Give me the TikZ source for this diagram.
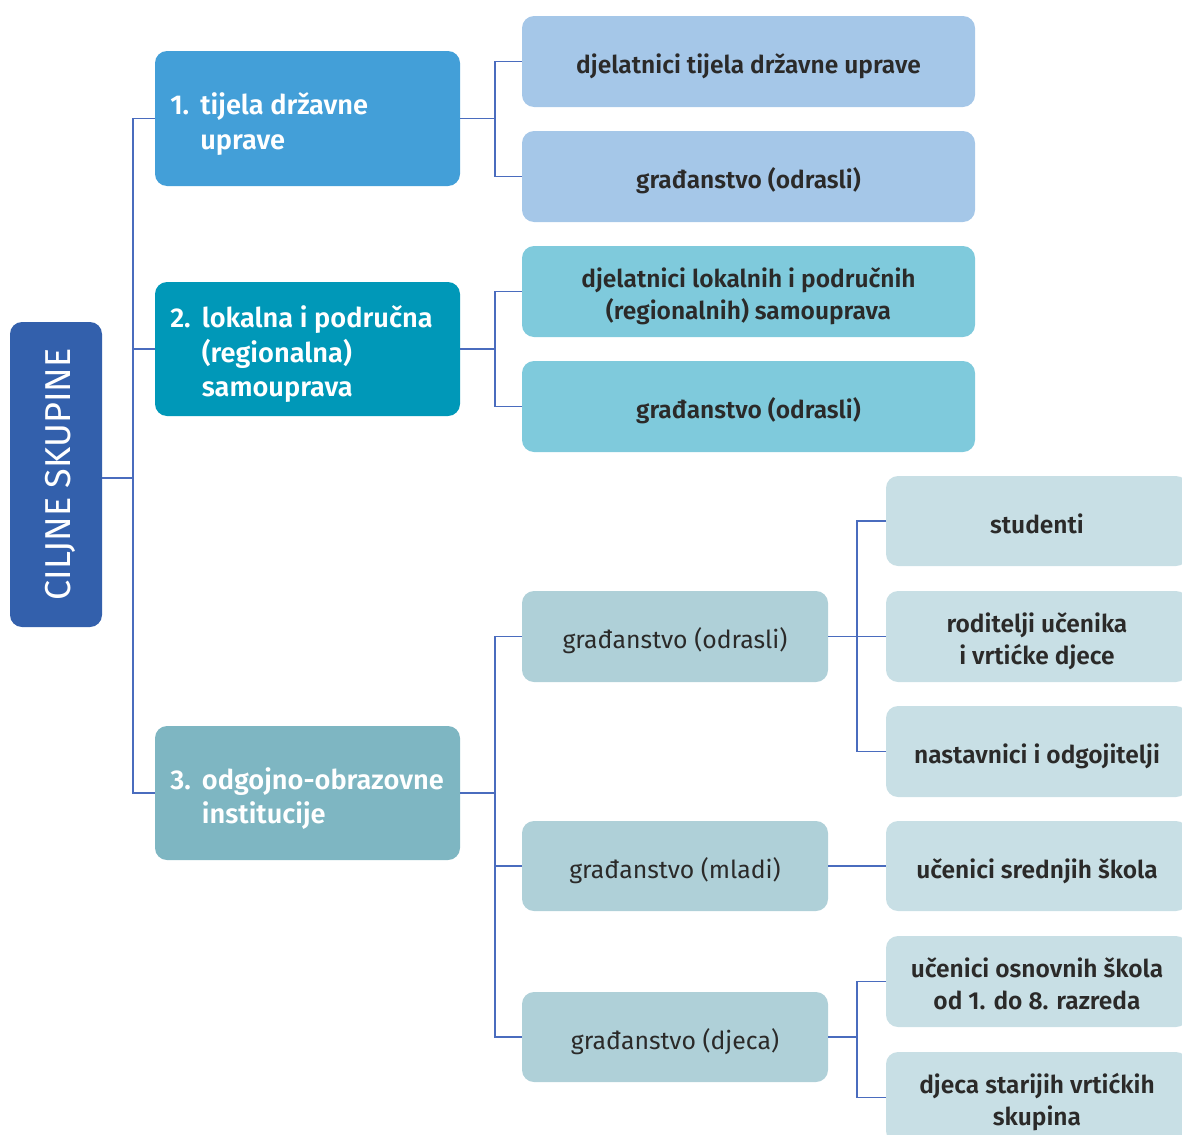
\documentclass[tikz,border=0pt]{standalone}
\usepackage{fontspec}
\IfFontExistsTF{Fira Sans SemiBold}{\setmainfont{Fira Sans}[BoldFont={Fira Sans SemiBold}]}{\setmainfont{Fira Sans}}
\definecolor{croot}{HTML}{3360AC}
\definecolor{cone}{HTML}{439FD8}
\definecolor{ctwo}{HTML}{0098B8}
\definecolor{cthree}{HTML}{7EB6C2}
\definecolor{lone}{HTML}{A5C7E8}
\definecolor{ltwo}{HTML}{7FCADC}
\definecolor{lthree}{HTML}{AFD0D8}
\definecolor{pale}{HTML}{C8DFE5}
\definecolor{cline}{HTML}{4A6CBE}
\definecolor{ctext}{HTML}{2B2A29}
\tikzset{
  boxbase/.style={rounded corners=9pt, inner sep=0pt, align=center},
  conn/.style={draw=cline, line width=1.1pt},
  headbox/.style={boxbase},
  headtext/.style={anchor=north west, text=white, font=\bfseries\fontsize{20.4}{26}\selectfont, inner sep=0pt},
  leafbold/.style={boxbase, text=ctext, font=\bfseries\fontsize{18.4}{24}\selectfont},
  leafreg/.style={boxbase, text=ctext, font=\fontsize{18.6}{24}\selectfont},
}
\newcommand{\low}[1]{\raisebox{0pt}[\dimexpr\height+9pt\relax]{\begin{tabular}{@{}c@{}}#1\end{tabular}}}
\newcommand{\bx}[7]{\node[#6, minimum width={(#4-#2)*0.75pt}, minimum height={(#5-#3)*0.75pt}] (#1) at ({(#2+#4)/2},{(#3+#5)/2}) {#7};}
\begin{document}
\begin{tikzpicture}[x=0.75pt,y=-0.75pt]
\useasboundingbox (0,0) rectangle (1182,1135);
% root
\bx{root}{10}{322}{102}{627}{boxbase, fill=croot}{}
\node[rotate=90, text=white, font=\fontsize{27}{30}\selectfont] (roottext) at ([xshift=3pt]root.center) {CILJNE SKUPINE};
% level 1
\bx{b1}{155}{51}{460}{186}{headbox, fill=cone}{}
\node[headtext] (t1) at (170,90) {\begin{tabular}{@{}l@{\ \,}l@{}}1.&tijela državne\\ &uprave\end{tabular}};
\bx{b2}{155}{282}{460}{416}{headbox, fill=ctwo}{}
\node[headtext] (t2) at (170,303) {\begin{tabular}{@{}l@{\ \,}l@{}}2.&lokalna i područna\\ &(regionalna)\\ &samouprava\end{tabular}};
\bx{b3}{155}{726}{460}{860}{headbox, fill=cthree}{}
\node[headtext] (t3) at (170,764.5) {\begin{tabular}{@{}l@{\ \,}l@{}}3.&odgojno-obrazovne\\ &institucije\end{tabular}};
% level 2
\bx{a1}{522}{16}{975}{107}{leafbold, fill=lone}{\low{djelatnici tijela državne uprave}}
\bx{a2}{522}{131}{975}{222}{leafbold, fill=lone}{\low{građanstvo (odrasli)}}
\bx{a3}{522}{246}{975}{337}{leafbold, fill=ltwo}{\low{djelatnici lokalnih i područnih\\(regionalnih) samouprava}}
\bx{a4}{522}{361}{975}{452}{leafbold, fill=ltwo}{\low{građanstvo (odrasli)}}
\bx{g1}{522}{591}{828}{682}{leafreg, fill=lthree}{\low{građanstvo (odrasli)}}
\bx{g2}{522}{821}{828}{911}{leafreg, fill=lthree}{\low{građanstvo (mladi)}}
\bx{g3}{522}{992}{828}{1082}{leafreg, fill=lthree}{\low{građanstvo (djeca)}}
% level 3
\bx{r1}{886}{476}{1188}{566}{leafbold, fill=pale}{\low{studenti}}
\bx{r2}{886}{591}{1188}{682}{leafbold, fill=pale}{\low{roditelji učenika\\i vrtićke djece}}
\bx{r3}{886}{706}{1188}{797}{leafbold, fill=pale}{\low{nastavnici i odgojitelji}}
\bx{r4}{886}{821}{1188}{911}{leafbold, fill=pale}{\low{učenici srednjih škola}}
\bx{r5}{886}{936}{1188}{1027}{leafbold, fill=pale}{\low{učenici osnovnih škola\\od 1. do 8. razreda}}
\bx{r6}{886}{1052}{1188}{1143}{leafbold, fill=pale}{\low{djeca starijih vrtićkih\\skupina}}
% connectors
\coordinate (jt) at (133,478);
\draw[conn] (root.east |- jt) -- (jt);
\draw[conn] (jt) |- (b1.west);
\draw[conn] (jt) |- (b2.west);
\draw[conn] (jt) |- (b3.west);
\coordinate (j1) at (495,118.5);
\draw[conn] (b1.east) -- (j1);
\draw[conn] (j1) |- (a1.west);
\draw[conn] (j1) |- (a2.west);
\coordinate (j2) at (495,349);
\draw[conn] (b2.east) -- (j2);
\draw[conn] (j2) |- (a3.west);
\draw[conn] (j2) |- (a4.west);
\coordinate (j3) at (495,793);
\draw[conn] (b3.east) -- (j3);
\draw[conn] (j3) |- (g1.west);
\draw[conn] (j3) |- (g2.west);
\draw[conn] (j3) |- (g3.west);
\coordinate (j4) at (857,636.5);
\draw[conn] (g1.east) -- (j4);
\draw[conn] (j4) |- (r1.west);
\draw[conn] (j4) |- (r2.west);
\draw[conn] (j4) |- (r3.west);
\draw[conn] (g2.east) -- (r4.west);
\coordinate (j5) at (857,1037);
\draw[conn] (g3.east) -- (j5);
\draw[conn] (j5) |- (r5.west);
\draw[conn] (j5) |- (r6.west);
\end{tikzpicture}
\end{document}
